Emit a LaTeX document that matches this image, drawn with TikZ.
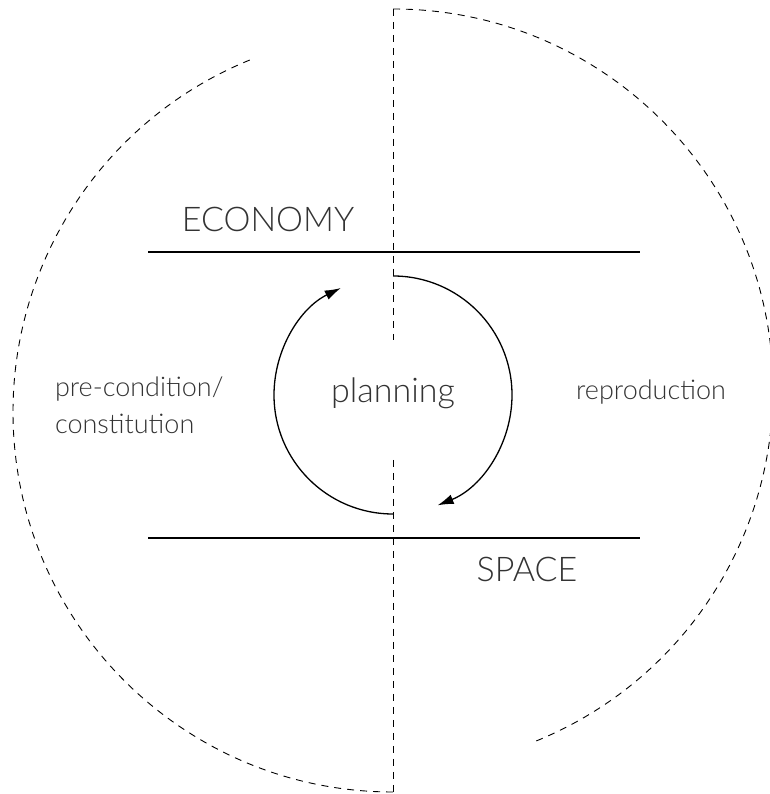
\documentclass[tikz,border=0pt]{standalone}
\usepackage{fontspec}
\setmainfont{Lato Light}
\usepackage{tikz}
\usetikzlibrary{arrows.meta, positioning}
\tikzset{
  font={\fontsize{27pt}{36pt}\selectfont},
  dashline/.style={line width=0.9pt, dash pattern=on 7pt off 6pt},
  axisline/.style={line width=1.6pt},
  flow/.style={line width=1.3pt, -{Latex[length=16pt, width=10pt]}},
  bigtext/.style={font={\fontsize{34pt}{40pt}\selectfont}}}
\begin{document}
\begin{tikzpicture}[x=1pt, y=1pt, every node/.style={text=black!80, inner sep=0pt, outer sep=0pt}]
  \useasboundingbox (0,0) rectangle (769,794);
  \coordinate (top) at (393,785);
  \coordinate (bot) at (393,2);
  \coordinate (el) at (148,542);
  \coordinate (er) at (640,542);
  \coordinate (sl) at (148,256);
  \coordinate (sr) at (640,256);
  \coordinate (ct) at (393,518);
  \coordinate (cb) at (393,280);
  \node (plan) [bigtext, anchor=base, text height=63pt, text depth=57pt] at (393,391) {planning};
  \node (eco) [bigtext, anchor=base] at (268,562) {ECONOMY};
  \node (spa) [bigtext, anchor=base] at (527,212) {SPACE};
  \node (pre) [anchor=base west] at (55,397) {pre-condition/};
  \node (con) [anchor=base west] at ([yshift=-37pt]pre.base west) {constitution};
  \node (rep) [anchor=base] at (651,394) {reproduction};
  \draw[axisline] (el) -- (er);
  \draw[axisline] (sl) -- (sr);
  \draw[dashline] (top) -- (plan.north);
  \draw[dashline] (plan.south) -- (bot);
  \draw[dashline] (top) arc[start angle=90, end angle=-68, radius=380];
  \draw[dashline] (bot) arc[start angle=270, end angle=112, radius=380];
  \draw[flow] (ct) arc[start angle=90, end angle=-68, radius=119];
  \draw[flow] (cb) arc[start angle=270, end angle=116, radius=119];
\end{tikzpicture}
\end{document}
